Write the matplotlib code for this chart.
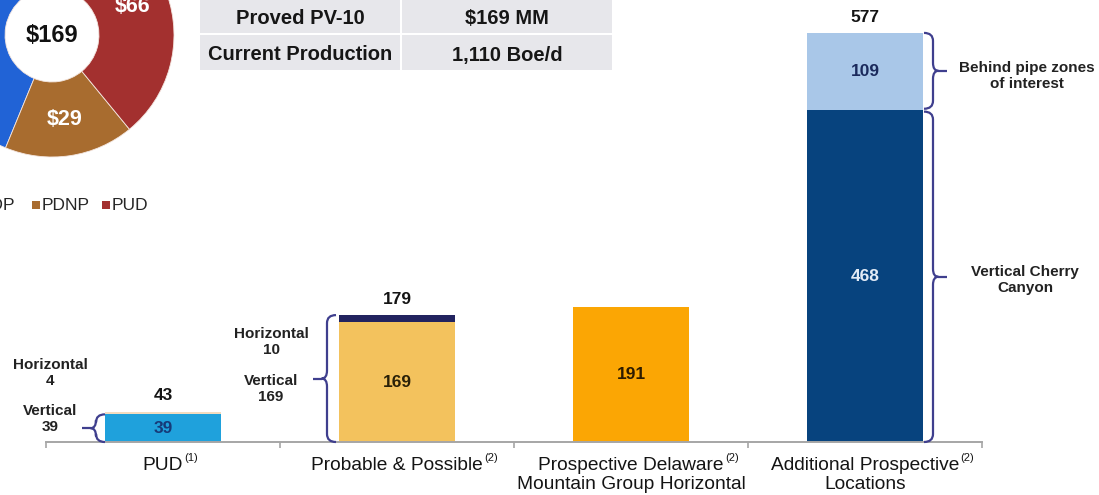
import math
import matplotlib
matplotlib.use("Agg")
import matplotlib.pyplot as plt
from matplotlib.patches import Rectangle, PathPatch
from matplotlib.path import Path

plt.rcParams["font.family"] = ["Liberation Sans", "DejaVu Sans"]

# ---- data -------------------------------------------------------------
categories = ["PUD", "Probable & Possible", "Prospective Delaware",
              "Additional Prospective"]
category_second_lines = ["", "", "Mountain Group Horizontal", "Locations"]
category_notes = ["(1)", "(2)", "(2)", "(2)"]

# stacked segments (bottom, top) per category
bottom_values = [39, 169, 191, 468]
top_values = [4, 10, 0, 109]
totals = [43, 179, None, 577]
bottom_labels = ["39", "169", "191", "468"]
top_labels = [None, None, None, "109"]

pv10_labels = ["PDP", "PDNP", "PUD"]
pv10_values = [74, 29, 66]
pv10_total = "$169"

table_rows = [["Proved PV-10", "$169 MM"],
              ["Current Production", "1,110 Boe/d"]]

# ---- styling ----------------------------------------------------------
bottom_colors = ["#1fa1dc", "#f3c25d", "#fba604", "#07437e"]
top_colors = ["#f3dcc0", "#22235f", "#fba604", "#a9c7e8"]
bottom_text_colors = ["#163a78", "#2a2108", "#2e1c00", "#e2ebf6"]
top_text_colors = [None, None, None, "#1b2a5c"]
pie_colors = ["#2163d6", "#a86c2f", "#a3302f"]
brace_color = "#3f3f8e"
ink = "#141414"

W, H = 1099, 495
fig = plt.figure(figsize=(W / 100, H / 100), dpi=100)

# main bar axes: x from -0.5..3.5 spans 46..982 px, baseline at 442 px
px_per_unit = 0.709
x_left, x_right, base_px = 46, 982, 442
ymax = base_px / px_per_unit
ax = fig.add_axes([x_left / W, (H - base_px) / H, (x_right - x_left) / W,
                   base_px / H])
ax.set_xlim(-0.5, 3.5)
ax.set_ylim(0, ymax)
for s in ["top", "right", "left"]:
    ax.spines[s].set_visible(False)
ax.spines["bottom"].set_color("#a6a6a6")
ax.spines["bottom"].set_linewidth(1.4)
ax.set_yticks([])
ax.set_xticks([-0.5, 0.5, 1.5, 2.5, 3.5])
ax.set_xticklabels([])
ax.tick_params(axis="x", direction="out", length=4, width=1.2,
               color="#a6a6a6")

xs = list(range(len(categories)))
bw = 0.495
ax.bar(xs, bottom_values, width=bw, color=bottom_colors, zorder=2)
ax.bar(xs, top_values, width=bw, bottom=bottom_values, color=top_colors,
       zorder=2)

for i in xs:
    ax.text(i, bottom_values[i] / 2, bottom_labels[i], ha="center",
            va="center", fontsize=12.5, fontweight="bold",
            color=bottom_text_colors[i], zorder=3)
    if top_labels[i]:
        ax.text(i, bottom_values[i] + top_values[i] / 2, top_labels[i],
                ha="center", va="center", fontsize=12.5, fontweight="bold",
                color=top_text_colors[i], zorder=3)
    if totals[i] is not None:
        ax.annotate(str(totals[i]), xy=(i, totals[i]), xytext=(0, 8),
                    textcoords="offset points", ha="center", va="baseline",
                    fontsize=12.5, fontweight="bold", color=ink)

# category labels with footnote markers
for i in xs:
    t1 = ax.annotate(categories[i], xy=(i, 0), xytext=(0, -20.5),
                     textcoords="offset points", ha="center",
                     va="baseline", fontsize=13.8, color=ink,
                     annotation_clip=False)
    if category_second_lines[i]:
        ax.annotate(category_second_lines[i], xy=(i, 0), xytext=(0, -34),
                    textcoords="offset points", ha="center",
                    va="baseline", fontsize=13.8, color=ink,
                    annotation_clip=False)
    ax.annotate(category_notes[i], xy=(1, 1), xycoords=t1, xytext=(1, 3),
                textcoords="offset points", ha="left", va="top",
                fontsize=8, color=ink)


# curly braces, sized in pixels and converted to data units
def brace(x0_px, y0, y1, side, tick_px=12, depth_px=9, curl_px=8):
    dx = 1.0 / 234.0
    dy = 1.0 / px_per_unit
    x0 = (x0_px - x_left) * dx - 0.5
    d = depth_px * dx * side
    r = curl_px * dy
    ym = (y0 + y1) / 2
    verts = [(x0 + d, y1), (x0, y1), (x0, y1 - r),
             (x0, ym + r), (x0, ym), (x0 - d * 0.6, ym),
             (x0, ym), (x0, ym - r),
             (x0, y0 + r), (x0, y0), (x0 + d, y0)]
    codes = [Path.MOVETO, Path.CURVE3, Path.CURVE3,
             Path.LINETO, Path.CURVE3, Path.CURVE3,
             Path.CURVE3, Path.CURVE3,
             Path.LINETO, Path.CURVE3, Path.CURVE3]
    ax.add_patch(PathPatch(Path(verts, codes), fill=False, lw=1.6,
                           ec=brace_color, clip_on=False, zorder=4))
    ax.plot([x0 - d * 0.6, x0 - d * 0.6 - tick_px * dx * side], [ym, ym],
            color=brace_color, lw=1.6, clip_on=False, zorder=4,
            solid_capstyle="butt")


brace(96, 0, bottom_values[0], side=1, tick_px=9)
brace(327, 0, bottom_values[1] + top_values[1], side=1, tick_px=9)
brace(933, bottom_values[3] + 2, bottom_values[3] + top_values[3], side=-1,
      tick_px=9)
brace(933, 0, bottom_values[3] - 2, side=-1, tick_px=9)


def px2data(px, py):
    return (px - x_left) / 234.0 - 0.5, (base_px - py) / px_per_unit


side_notes = [
    ((50, 373), f"Horizontal\n{top_values[0]}"),
    ((50, 419), f"Vertical\n{bottom_values[0]}"),
    ((271, 342), f"Horizontal\n{top_values[1]}"),
    ((271, 389), f"Vertical\n{bottom_values[1]}"),
    ((1027, 76), "Behind pipe zones\nof interest"),
    ((1025, 280), "Vertical Cherry\nCanyon"),
]
for (px, py), txt in side_notes:
    x, y = px2data(px, py)
    ax.text(x, y, txt, ha="center", va="center", fontsize=11,
            fontweight="bold", color="#222222", linespacing=1.2,
            clip_on=False)

# ---- summary table --------------------------------------------------
tab = fig.add_axes([0, 0, 1, 1], zorder=5)
tab.set_xlim(0, W)
tab.set_ylim(H, 0)
tab.axis("off")
col_edges = [(200, 400), (402, 612)]
row_edges = [(-2, 33), (35, 70)]
for r, row in enumerate(table_rows):
    for c, val in enumerate(row):
        (x0, x1), (y0, y1) = col_edges[c], row_edges[r]
        tab.add_patch(Rectangle((x0, y0), x1 - x0, y1 - y0,
                                fc="#e7e7eb", ec="none"))
        tab.text((x0 + x1) / 2, (y0 + y1) / 2 + 2.5, val, ha="center",
                 va="center", fontsize=14.5, fontweight="bold",
                 color="#161616")

# ---- PV-10 donut ----------------------------------------------------
cx, cy, R = 52, 35, 122
pax = fig.add_axes([(cx - R) / W, (H - cy - R) / H, 2 * R / W, 2 * R / H],
                   zorder=4)
wedges, _ = pax.pie(pv10_values, colors=pie_colors, startangle=90,
                    radius=1.0,
                    wedgeprops=dict(width=0.615, edgecolor="#f4e6e0",
                                    linewidth=0.6))
pax.set_xlim(-1, 1)
pax.set_ylim(-1, 1)
pax.axis("off")
for w, v in zip(wedges, pv10_values):
    ang = math.radians((w.theta1 + w.theta2) / 2)
    pax.text(0.70 * math.cos(ang), 0.70 * math.sin(ang), f"${v}",
             ha="center", va="center", fontsize=15.5, fontweight="bold",
             color="white")
pax.text(0, 0, pv10_total, ha="center", va="center", fontsize=17,
         fontweight="bold", color="#111111")

# legend row under the donut
legend_text_x = [-20, 42, 112]
for lbl, col, tx in zip(pv10_labels, pie_colors, legend_text_x):
    tab.add_patch(Rectangle((tx - 10, 201), 8, 8, fc=col, ec="none"))
    tab.text(tx, 205, lbl, ha="left", va="center", fontsize=12.5,
             color="#262626")

fig.savefig("out.png", dpi=100)
